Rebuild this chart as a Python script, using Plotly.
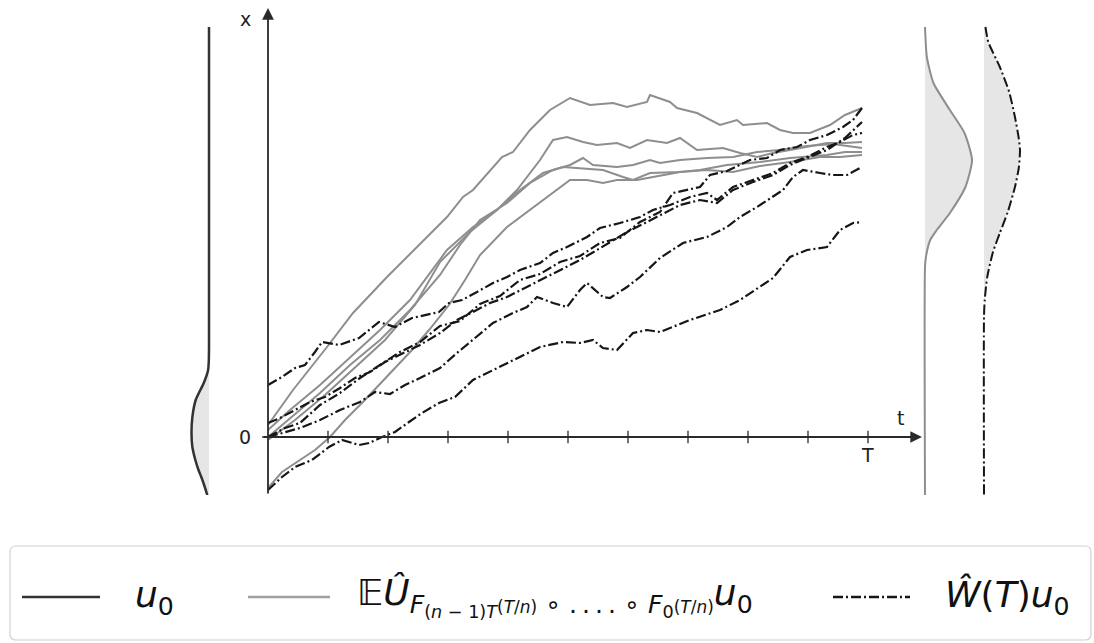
import plotly.graph_objects as go

W, H = 1094, 643

# ---- time grid (steps), T = 600 steps, a tick every 60 steps ----
T_END = 600
t_ticks = list(range(60, T_END + 1, 60))

# ---- gray paths: E U_hat composed flows ----
g1_t = [0, 25, 59, 85, 119, 159, 179, 195, 205, 234, 245, 262, 282, 302, 322, 345, 359, 379, 382, 402, 409, 429,
        452, 469, 475, 499, 512, 525, 542, 562, 577, 594]
g1_x = [12, 47, 90, 124, 160, 200, 220, 240, 247, 280, 285, 307, 327, 339, 332, 334, 330, 335, 342, 335, 329, 324,
        312, 317, 312, 314, 307, 304, 304, 312, 322, 329]

g2_t = [0, 22, 52, 82, 112, 142, 179, 205, 229, 249, 272, 285, 299, 315, 329, 349, 362, 379, 399, 412, 429, 455,
        472, 489, 505, 522, 539, 559, 577, 594]
g2_x = [7, 27, 52, 79, 107, 137, 187, 210, 227, 247, 277, 297, 300, 295, 292, 294, 289, 297, 294, 299, 287, 289,
        284, 280, 284, 287, 290, 294, 294, 295]

g3_t = [0, 22, 52, 82, 112, 142, 172, 192, 212, 239, 262, 285, 302, 315, 325, 349, 365, 382, 392, 412, 439, 465,
        489, 512, 539, 565, 594]
g3_x = [0, 19, 44, 72, 97, 127, 162, 192, 217, 234, 254, 267, 272, 279, 272, 270, 272, 277, 274, 277, 279, 280,
        285, 287, 291, 293, 289]

g4_t = [0, 27, 57, 87, 117, 147, 172, 202, 229, 252, 275, 295, 312, 335, 355, 365, 382, 412, 432, 459, 492, 522,
        559, 577, 594]
g4_x = [-3, 17, 42, 69, 97, 132, 175, 205, 227, 247, 264, 270, 269, 267, 260, 257, 264, 265, 267, 272, 275, 279,
        282, 285, 285]

g5_t = [0, 14, 32, 47, 62, 77, 94, 110, 127, 144, 161, 181, 197, 212, 239, 262, 289, 302, 319, 335, 349, 369,
        385, 412, 439, 465, 492, 522, 552, 572, 594]
g5_x = [-51, -35, -23, -13, 0, 17, 34, 51, 69, 87, 107, 132, 157, 182, 210, 227, 247, 257, 257, 254, 257, 257,
        260, 265, 267, 265, 271, 275, 280, 280, 282]

# ---- dash-dot paths: W_hat(t) u0 ----
b1_t = [0, 14, 27, 37, 47, 54, 71, 91, 111, 127, 144, 171, 181, 194, 209, 225, 239, 252, 272, 285, 299, 319, 332,
        352, 372, 385, 402, 422, 439, 449, 465, 485, 505, 522, 539, 559, 572, 585, 594]
b1_x = [52, 60, 69, 72, 85, 95, 92, 99, 115, 110, 119, 125, 134, 137, 145, 154, 160, 167, 174, 184, 190, 200, 209,
        214, 220, 227, 232, 240, 244, 237, 250, 257, 264, 274, 280, 290, 295, 302, 304]

b2_t = [0, 12, 27, 42, 57, 72, 87, 102, 117, 132, 152, 172, 189, 205, 222, 239, 259, 279, 292, 312, 329, 345, 359,
        379, 392, 412, 432, 449, 465, 485, 505, 522, 539, 559, 577, 594]
b2_x = [14, 19, 27, 35, 40, 49, 59, 65, 75, 82, 92, 104, 117, 125, 134, 140, 150, 160, 167, 177, 187, 197, 205,
        215, 222, 232, 237, 234, 247, 255, 262, 272, 279, 287, 299, 315]

b3_t = [0, 17, 32, 52, 72, 92, 112, 132, 152, 172, 192, 212, 232, 252, 272, 292, 312, 332, 352, 372, 392, 405,
        432, 442, 459, 482, 499, 512, 529, 542, 559, 575, 585, 594]
b3_x = [0, 9, 14, 32, 44, 59, 72, 85, 95, 111, 116, 133, 141, 157, 163, 175, 181, 194, 199, 215, 225, 244,
        250, 262, 266, 277, 279, 287, 290, 297, 302, 310, 317, 329]

b4_t = [0, 17, 32, 52, 72, 92, 107, 122, 137, 152, 172, 189, 205, 225, 245, 259, 269, 285, 299, 312, 319, 335,
        342, 359, 372, 392, 415, 439, 459, 472, 489, 505, 515, 525, 535, 552, 565, 579, 594]
b4_x = [0, 5, 9, 17, 27, 35, 45, 43, 52, 59, 69, 84, 97, 114, 124, 130, 140, 134, 130, 147, 154, 140,
        139, 150, 160, 179, 194, 200, 210, 220, 230, 240, 247, 260, 267, 264, 262, 262, 270]

b5_t = [0, 14, 27, 44, 61, 74, 91, 101, 114, 127, 141, 154, 171, 187, 205, 225, 245, 272, 295, 312, 325, 335,
        349, 365, 379, 392, 422, 452, 472, 505, 522, 539, 559, 572, 585, 594]
b5_x = [-53, -40, -30, -23, -10, -3, -8, -6, 0, 5, 15, 24, 34, 40, 57, 67, 77, 90, 95, 94, 97, 89,
        87, 104, 107, 105, 117, 127, 137, 159, 180, 187, 190, 207, 214, 215]

gray_paths = [(g1_t, g1_x), (g2_t, g2_x), (g3_t, g3_x), (g4_t, g4_x), (g5_t, g5_x)]
dash_paths = [(b1_t, b1_x), (b2_t, b2_x), (b3_t, b3_x), (b4_t, b4_x), (b5_t, b5_x)]

# ---- marginal densities (state value, relative density) ----
u0_x = [410, 90, 77, 67, 54, 44, 37, 20, 4, -10, -23, -33, -40, -50, -58]
u0_d = [0, 0, 0.01, 0.05, 0.3, 0.58, 0.76, 0.95, 1.0, 0.95, 0.78, 0.6, 0.44, 0.24, 0.1]

eu_x = [410, 380, 354, 327, 304, 277, 250, 224, 207, 197, 180, 170, -58]
eu_d = [0, 0.04, 0.18, 0.53, 0.84, 1.0, 0.86, 0.53, 0.25, 0.11, 0.02, 0, 0]

w_x = [410, 395, 370, 345, 320, 300, 287, 270, 250, 225, 204, 185, 160, 137, 120, -58]
w_d = [0.04, 0.12, 0.44, 0.7, 0.86, 0.96, 1.0, 0.97, 0.86, 0.66, 0.44, 0.25, 0.09, 0.02, 0, 0]

X_MIN, X_MAX = -58, 429

GRAY = "#8e8e8e"
BLACK = "#161616"
AXIS = "#2a2a2a"
FILL = "#e6e6e6"
DASHDOT = "10px,3px,2px,3px"
FONT = "DejaVu Sans"


def fx(p):
    return p / W


def fy(p):
    return 1 - p / H


fig = go.Figure()

# densities
fig.add_trace(go.Scatter(x=u0_d, y=u0_x, xaxis="x2", yaxis="y", mode="lines", fill="tozerox",
                         fillcolor=FILL, line=dict(color="#333333", width=2.5, shape="spline", smoothing=0.6),
                         hoverinfo="skip", showlegend=False))
fig.add_trace(go.Scatter(x=eu_d, y=eu_x, xaxis="x3", yaxis="y", mode="lines", fill="tozerox",
                         fillcolor=FILL, line=dict(color=GRAY, width=2, shape="spline", smoothing=0.6),
                         hoverinfo="skip", showlegend=False))
fig.add_trace(go.Scatter(x=w_d, y=w_x, xaxis="x4", yaxis="y", mode="lines", fill="tozerox",
                         fillcolor=FILL, line=dict(color=BLACK, width=2, dash=DASHDOT, shape="spline", smoothing=0.6),
                         hoverinfo="skip", showlegend=False))

# sample paths
for t, x in gray_paths:
    fig.add_trace(go.Scatter(x=t, y=x, mode="lines", line=dict(color=GRAY, width=2),
                             hoverinfo="skip", showlegend=False))
for t, x in dash_paths:
    fig.add_trace(go.Scatter(x=t, y=x, mode="lines", line=dict(color=BLACK, width=2.2, dash=DASHDOT),
                             hoverinfo="skip", showlegend=False))

# tick marks on the time axis and the zero mark on the state axis
fig.add_trace(go.Scatter(x=t_ticks, y=[0] * len(t_ticks), mode="markers",
                         marker=dict(symbol="line-ns", size=9, line=dict(width=1.3, color=AXIS)),
                         hoverinfo="skip", showlegend=False))
fig.add_trace(go.Scatter(x=[0], y=[0], mode="markers",
                         marker=dict(symbol="line-ew", size=11, line=dict(width=1.3, color=AXIS)),
                         hoverinfo="skip", showlegend=False))

lab_font = dict(family=FONT, size=19, color="#222")


def label(px, py, text):
    return dict(x=fx(px), y=fy(py), xref="paper", yref="paper", xanchor="center", yanchor="middle",
                text=text, showarrow=False, font=lab_font)


annotations = [
    # axes with arrowheads
    dict(x=0, y=X_MAX, ax=0, ay=X_MIN, xref="x", yref="y", axref="x", ayref="y", text="",
         showarrow=True, arrowhead=2, arrowsize=1.3, arrowwidth=1.8, arrowcolor=AXIS),
    dict(x=654, y=0, ax=-6, ay=0, xref="x", yref="y", axref="x", ayref="y", text="",
         showarrow=True, arrowhead=2, arrowsize=1.3, arrowwidth=1.8, arrowcolor=AXIS),
    # axis labels
    label(245, 19, "x"),
    label(245, 437, "0"),
    label(900, 418, "t"),
    label(867, 455, "T"),
]

# legend
LEG_Y = 597
leg_font = dict(family=FONT, size=36, color="#111")
frac = '<span style="font-size:17px">(<i>T</i>/<i>n</i>)</span>'
annotations += [
    dict(x=fx(133), y=fy(LEG_Y), xref="paper", yref="paper", xanchor="left", yanchor="middle",
         text="<i>u</i><sub>0</sub>", showarrow=False, font=leg_font),
    dict(x=fx(355), y=fy(LEG_Y), xref="paper", yref="paper", xanchor="left", yanchor="middle",
         text="𝔼<i>Û</i><sub><i>F</i><sub>(<i>n</i> − 1)<i>T</i></sub>" + frac +
              " ∘ .\u2009.\u2009.\u2009. ∘ <i>F</i><sub>0</sub>" + frac + "</sub><i>u</i><sub>0</sub>",
         showarrow=False, font=leg_font),
    dict(x=fx(943), y=fy(LEG_Y), xref="paper", yref="paper", xanchor="left", yanchor="middle",
         text="<i>Ŵ</i>(<i>T</i>)<i>u</i><sub>0</sub>", showarrow=False, font=leg_font),
]

bx0, bx1, by0, by1, r = 10, 1091, 546, 640, 6
box_path = (
    f"M{fx(bx0 + r)},{fy(by0)} L{fx(bx1 - r)},{fy(by0)} Q{fx(bx1)},{fy(by0)} {fx(bx1)},{fy(by0 + r)} "
    f"L{fx(bx1)},{fy(by1 - r)} Q{fx(bx1)},{fy(by1)} {fx(bx1 - r)},{fy(by1)} "
    f"L{fx(bx0 + r)},{fy(by1)} Q{fx(bx0)},{fy(by1)} {fx(bx0)},{fy(by1 - r)} "
    f"L{fx(bx0)},{fy(by0 + r)} Q{fx(bx0)},{fy(by0)} {fx(bx0 + r)},{fy(by0)} Z"
)
shapes = [
    dict(type="path", path=box_path, xref="paper", yref="paper", line=dict(color="#d0d0d0", width=1.2)),
    dict(type="line", x0=fx(22), x1=fx(100), y0=fy(LEG_Y), y1=fy(LEG_Y), xref="paper", yref="paper",
         line=dict(color="#333333", width=2.5)),
    dict(type="line", x0=fx(248), x1=fx(330), y0=fy(LEG_Y), y1=fy(LEG_Y), xref="paper", yref="paper",
         line=dict(color="#a0a0a0", width=2.5)),
    dict(type="line", x0=fx(833), x1=fx(910), y0=fy(LEG_Y), y1=fy(LEG_Y), xref="paper", yref="paper",
         line=dict(color=BLACK, width=2.5, dash=DASHDOT)),
]

fig.update_layout(
    width=W, height=H, autosize=False,
    margin=dict(l=0, r=0, t=0, b=0),
    paper_bgcolor="white", plot_bgcolor="rgba(0,0,0,0)",
    showlegend=False,
    xaxis=dict(domain=[fx(262), fx(925)], range=[-6, 657], visible=False, fixedrange=True),
    yaxis=dict(domain=[fy(495), fy(8)], range=[X_MIN, X_MAX], visible=False, fixedrange=True),
    xaxis2=dict(domain=[fx(175), fx(215)], range=[(209 - 175) / 17.5, (209 - 215) / 17.5],
                anchor="y", visible=False, fixedrange=True),
    xaxis3=dict(domain=[fx(918), fx(980)], range=[(918 - 925) / 47, (980 - 925) / 47],
                anchor="y", visible=False, fixedrange=True),
    xaxis4=dict(domain=[fx(977), fx(1040)], range=[(977 - 984) / 36, (1040 - 984) / 36],
                anchor="y", visible=False, fixedrange=True),
    annotations=annotations,
    shapes=shapes,
)

fig.write_html("out.html")
